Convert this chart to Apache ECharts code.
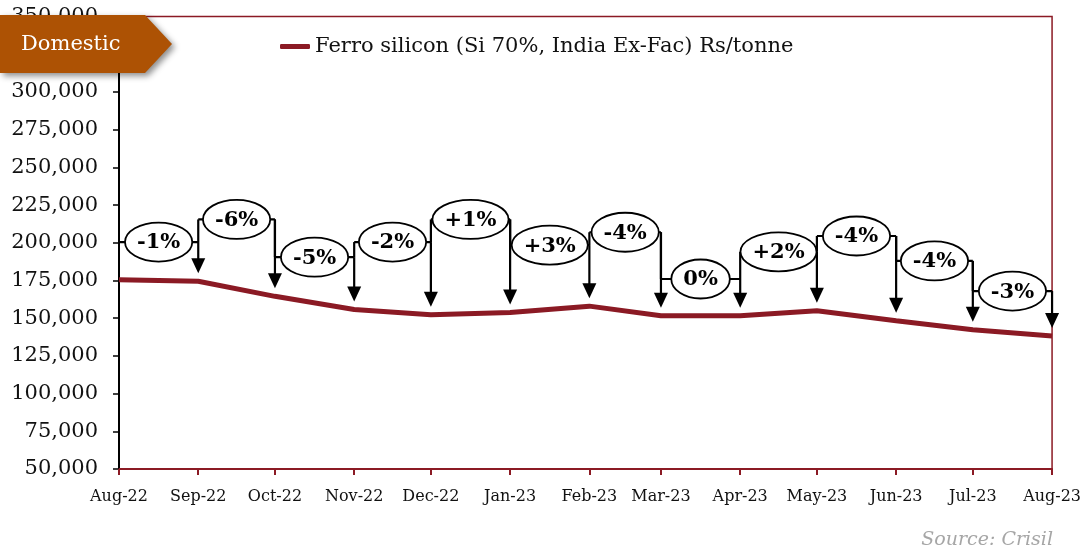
<!DOCTYPE html>
<html>
<head>
<meta charset="utf-8">
<script src="https://cdn.jsdelivr.net/npm/echarts@6/dist/echarts.min.js"></script>
<style>
html,body{margin:0;padding:0;background:#fff;}
#chart{width:1084px;height:550px;}
</style>
</head>
<body>
<div id="chart"></div>
<script>
// ---- data ----
const monthLabels = ['Aug-22','Sep-22','Oct-22','Nov-22','Dec-22','Jan-23','Feb-23','Mar-23','Apr-23','May-23','Jun-23','Jul-23','Aug-23'];
const monthDates = ['2022-08-01','2022-09-01','2022-10-01','2022-11-01','2022-12-01','2023-01-01','2023-02-01','2023-03-01','2023-04-01','2023-05-01','2023-06-01','2023-07-01','2023-08-01'];
const prices = [175500, 174500, 164500, 155800, 152300, 153800, 158000, 151600, 151600, 155000, 148300, 142300, 138200];
const changeLabels = ['-1%','-6%','-5%','-2%','+1%','+3%','-4%','0%','+2%','-4%','-4%','-3%'];
const calloutLevels = [200500, 215500, 190500, 200500, 215500, 198500, 207000, 176000, 194000, 204500, 188000, 168000];
const yTicks = {min: 50000, max: 350000, interval: 25000};
const seriesName = 'Ferro silicon (Si 70%, India Ex-Fac) Rs/tonne';

// ---- helpers ----
const FONT = 'DejaVu Serif';
const base = Date.UTC(2022, 7, 1);
function dayOf(s){ const p = s.split('-').map(Number); return (Date.UTC(p[0], p[1]-1, p[2]) - base) / 86400000; }
const xs = monthDates.map(dayOf);
const labelByDay = {}; xs.forEach((d,i)=>labelByDay[d]=monthLabels[i]);
const lineData = xs.map((d,i)=>[d, prices[i]]);
const calloutData = changeLabels.map((lab,i)=>[xs[i], xs[i+1], calloutLevels[i], prices[i+1], i>0 ? calloutLevels[i-1] : calloutLevels[i], lab]);

const CFONT = 'bold 21px "' + FONT + '"';
const mctx = document.createElement('canvas').getContext('2d');
mctx.font = CFONT;

function fmt(v){ return String(v).replace(/\B(?=(\d{3})+(?!\d))/g, ','); }

const chart = echarts.init(document.getElementById('chart'), null, {renderer:'canvas'});
const option = {
  animation: false,
  backgroundColor: '#fff',
  textStyle: {fontFamily: FONT},
  grid: {left: 119, right: 28, top: 16.6, bottom: 81, show: true, borderColor: '#8b1a24', borderWidth: 1.5, backgroundColor: 'transparent'},
  legend: {
    left: 275, top: 31, itemWidth: 30, itemHeight: 5, itemGap: 11, icon: 'roundRect',
    data: [{name: seriesName, itemStyle: {color: '#8b1a24'}}],
    textStyle: {fontFamily: FONT, fontSize: 21, color: '#111'}
  },
  xAxis: {
    type: 'value', min: xs[0], max: xs[xs.length-1],
    axisLine: {show: true, lineStyle: {color: '#8b1a24', width: 2}},
    axisTick: {show: true, customValues: xs, length: 6, lineStyle: {color: '#8b1a24', width: 2}},
    axisLabel: {customValues: xs, formatter: v => labelByDay[v] || '', fontFamily: FONT, fontSize: 16, color: '#111', margin: 20},
    splitLine: {show: false}
  },
  yAxis: {
    type: 'value', min: yTicks.min, max: yTicks.max, interval: yTicks.interval,
    axisLine: {show: true, lineStyle: {color: '#000', width: 2}},
    axisTick: {show: true, length: 6, lineStyle: {color: '#000', width: 1.5}},
    axisLabel: {formatter: v => fmt(v), fontFamily: FONT, fontSize: 21, color: '#111', margin: 21},
    splitLine: {show: false}
  },
  series: [
    {
      name: seriesName, type: 'line', data: lineData, symbol: 'none', z: 3,
      lineStyle: {color: '#8b1a24', width: 5}, itemStyle: {color: '#8b1a24'}
    },
    {
      name: 'callouts', type: 'custom', data: calloutData, z: 5, silent: true,
      renderItem: function(params, api){
        const a = api.coord([api.value(0), api.value(2)]);
        const b = api.coord([api.value(1), api.value(2)]);
        const tip = api.coord([api.value(1), api.value(3)]);
        const prev = api.coord([api.value(0), api.value(4)]);
        const label = calloutData[params.dataIndex][5];
        const yL = a[1];
        const tipY = tip[1] - 8;
        const aH = 15, aW = 7;
        const tw = mctx.measureText(label).width;
        const rx = tw/2 + 12, ry = 19.5;
        const cx = (a[0] + b[0]) / 2;
        const st = {stroke: '#000', lineWidth: 2.2};
        const children = [
          {type: 'line', shape: {x1: a[0], y1: yL, x2: b[0], y2: yL}, style: st},
          {type: 'line', shape: {x1: b[0], y1: yL, x2: b[0], y2: tipY - aH + 1}, style: st},
          {type: 'polygon', shape: {points: [[b[0]-aW, tipY-aH], [b[0]+aW, tipY-aH], [b[0], tipY]]}, style: {fill: '#000'}}
        ];
        if (params.dataIndex > 0) {
          children.push({type: 'line', shape: {x1: a[0], y1: yL, x2: a[0], y2: prev[1]}, style: st});
        }
        children.push({type: 'ellipse', shape: {cx: cx, cy: yL, rx: rx, ry: ry}, style: {fill: '#fff', stroke: '#000', lineWidth: 1.8}});
        children.push({type: 'text', style: {text: label, x: cx, y: yL + 1, align: 'center', verticalAlign: 'middle', font: CFONT, fill: '#000'}});
        return {type: 'group', children: children};
      }
    }
  ],
  graphic: [
    {
      type: 'polygon', z: 100,
      shape: {points: [[0,15],[145,15],[172,44],[145,73],[0,73]]},
      style: {fill: '#ad5204', shadowBlur: 6, shadowOffsetX: 3, shadowOffsetY: 3, shadowColor: 'rgba(0,0,0,0.45)'}
    },
    {
      type: 'text', z: 101, left: 21, top: 34,
      style: {text: 'Domestic', font: '21px "' + FONT + '"', fill: '#fff'}
    },
    {
      type: 'text', z: 101, right: 31, top: 531,
      style: {text: 'Source: Crisil', font: 'italic 19px "' + FONT + '"', fill: '#a6a6a6'}
    }
  ]
};
chart.setOption(option);
</script>
</body>
</html>
